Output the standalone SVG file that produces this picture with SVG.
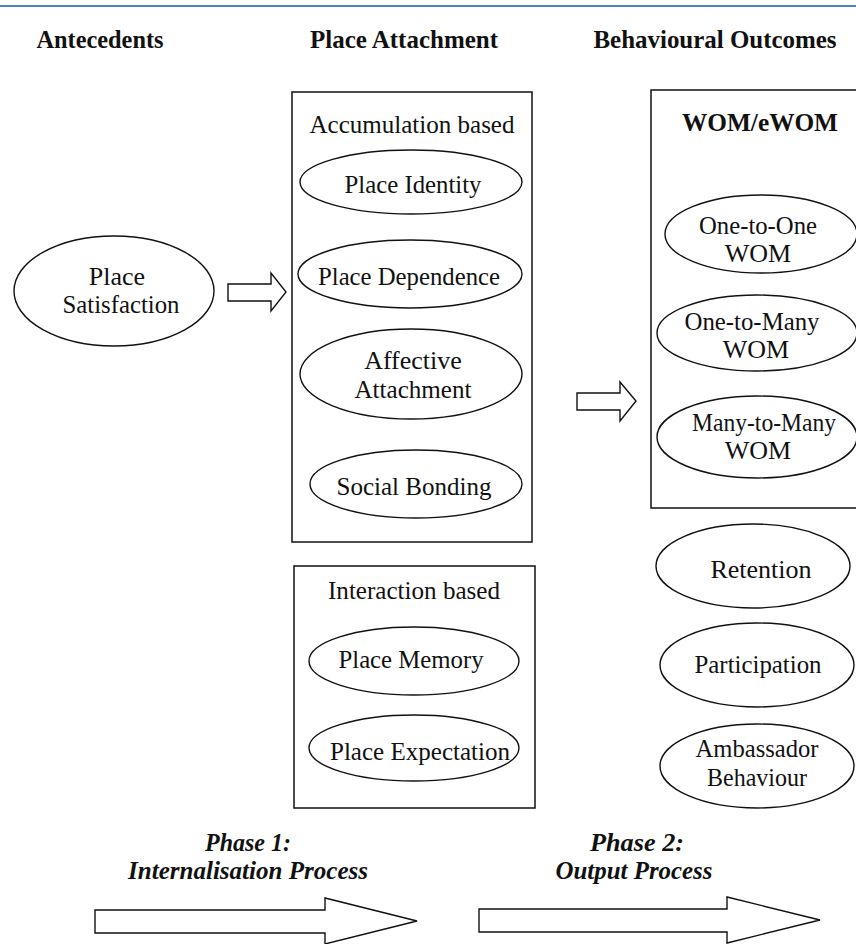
<svg xmlns="http://www.w3.org/2000/svg" width="856" height="944" viewBox="0 0 856 944">
<style>
text{font-family:"Liberation Serif","Times New Roman",serif;font-size:26px;fill:#111;text-anchor:middle}
.h{font-weight:bold}
.ph{font-weight:bold;font-style:italic}
.box{fill:none;stroke:#111;stroke-width:1.5}
.el{fill:#fff;stroke:#111;stroke-width:1.4}
.arr{fill:#fff;stroke:#111;stroke-width:1.4;stroke-linejoin:miter}
</style>
<rect width="856" height="944" fill="#fff"/>
<line x1="0" y1="6" x2="856" y2="6" stroke="#4f81bd" stroke-width="2"/>
<g id="headings">
<text class="h" x="100" y="48" textLength="127" lengthAdjust="spacingAndGlyphs">Antecedents</text>
<text class="h" x="404" y="48" textLength="188" lengthAdjust="spacingAndGlyphs">Place Attachment</text>
<text class="h" x="715" y="48" textLength="243" lengthAdjust="spacingAndGlyphs">Behavioural Outcomes</text>
</g>
<g id="place-satisfaction">
<ellipse class="el" cx="114" cy="291" rx="100" ry="55"/>
<text x="117" y="285">Place</text>
<text x="121" y="313" textLength="117" lengthAdjust="spacingAndGlyphs">Satisfaction</text>
</g>
<g id="accumulation-box">
<rect class="box" x="292" y="92" width="240" height="450"/>
<text x="412" y="133" textLength="205" lengthAdjust="spacingAndGlyphs">Accumulation based</text>
</g>
<g id="place-identity">
<ellipse class="el" cx="411" cy="182" rx="111" ry="32"/>
<text x="413" y="193" textLength="137" lengthAdjust="spacingAndGlyphs">Place Identity</text>
</g>
<g id="place-dependence">
<ellipse class="el" cx="410" cy="274" rx="112" ry="34"/>
<text x="409" y="285" textLength="182" lengthAdjust="spacingAndGlyphs">Place Dependence</text>
</g>
<g id="affective-attachment">
<ellipse class="el" cx="411" cy="374" rx="111" ry="45"/>
<text x="413" y="369">Affective</text>
<text x="413" y="398" textLength="117" lengthAdjust="spacingAndGlyphs">Attachment</text>
</g>
<g id="social-bonding">
<ellipse class="el" cx="416" cy="484" rx="106" ry="34"/>
<text x="414" y="495" textLength="155" lengthAdjust="spacingAndGlyphs">Social Bonding</text>
</g>
<g id="interaction-box">
<rect class="box" x="294" y="566" width="241" height="242"/>
<text x="414" y="599" textLength="172" lengthAdjust="spacingAndGlyphs">Interaction based</text>
</g>
<g id="place-memory">
<ellipse class="el" cx="414" cy="661" rx="105" ry="34"/>
<text x="411" y="668" textLength="145" lengthAdjust="spacingAndGlyphs">Place Memory</text>
</g>
<g id="place-expectation">
<ellipse class="el" cx="414" cy="748" rx="105" ry="33"/>
<text x="420" y="760" textLength="180" lengthAdjust="spacingAndGlyphs">Place Expectation</text>
</g>
<g id="wom-box">
<rect class="box" x="651" y="90" width="230" height="418"/>
<text class="h" x="760" y="131" textLength="156" lengthAdjust="spacingAndGlyphs">WOM/eWOM</text>
</g>
<g id="one-to-one">
<ellipse class="el" cx="761" cy="234" rx="96" ry="39"/>
<text x="758" y="234" textLength="118" lengthAdjust="spacingAndGlyphs">One-to-One</text>
<text x="758" y="262">WOM</text>
</g>
<g id="one-to-many">
<ellipse class="el" cx="757" cy="333" rx="100" ry="38"/>
<text x="752" y="330" textLength="135" lengthAdjust="spacingAndGlyphs">One-to-Many</text>
<text x="756" y="358">WOM</text>
</g>
<g id="many-to-many">
<ellipse class="el" cx="757" cy="437" rx="100" ry="41"/>
<text x="764" y="431" textLength="144" lengthAdjust="spacingAndGlyphs">Many-to-Many</text>
<text x="758" y="459">WOM</text>
</g>
<g id="retention">
<ellipse class="el" cx="753" cy="566" rx="97" ry="42"/>
<text x="761" y="578">Retention</text>
</g>
<g id="participation">
<ellipse class="el" cx="757" cy="665" rx="97" ry="42"/>
<text x="758" y="673" textLength="127" lengthAdjust="spacingAndGlyphs">Participation</text>
</g>
<g id="ambassador">
<ellipse class="el" cx="757" cy="766" rx="97" ry="42"/>
<text x="757" y="757" textLength="123" lengthAdjust="spacingAndGlyphs">Ambassador</text>
<text x="757" y="786" textLength="100" lengthAdjust="spacingAndGlyphs">Behaviour</text>
</g>
<g id="connectors">
<polygon class="arr" points="228,284 271,284 271,273 286,292 271,311 271,301 228,301"/>
<polygon class="arr" points="577,393 620,393 620,382 636,401 620,421 620,410 577,410"/>
<polygon class="arr" points="95,910 325,910 325,898 417,921 325,944 325,933 95,933"/>
<polygon class="arr" points="479,909 727,909 727,897 820,920 727,943 727,932 479,932"/>
</g>
<g id="phase-labels">
<text class="ph" x="248" y="851" textLength="86" lengthAdjust="spacingAndGlyphs">Phase 1:</text>
<text class="ph" x="248" y="879" textLength="240" lengthAdjust="spacingAndGlyphs">Internalisation Process</text>
<text class="ph" x="637" y="851" textLength="94" lengthAdjust="spacingAndGlyphs">Phase 2:</text>
<text class="ph" x="634" y="879" textLength="157" lengthAdjust="spacingAndGlyphs">Output Process</text>
</g>
</svg>
